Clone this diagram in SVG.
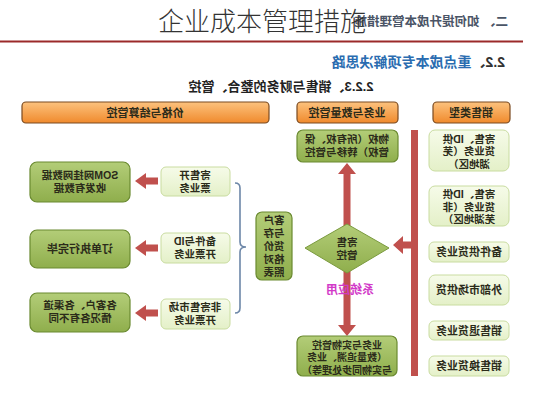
<svg xmlns="http://www.w3.org/2000/svg" width="533" height="400" viewBox="0 0 533 400">
<defs>
<linearGradient id="gOr" x1="0" y1="0" x2="0" y2="1"><stop offset="0" stop-color="#fcc27e"/><stop offset="1" stop-color="#f08a2c"/></linearGradient>
<linearGradient id="gGr" x1="0" y1="0" x2="0" y2="1"><stop offset="0" stop-color="#b3cd78"/><stop offset="1" stop-color="#8fae4c"/></linearGradient>
<linearGradient id="gLt" x1="0" y1="0" x2="0" y2="1"><stop offset="0" stop-color="#f6fbe9"/><stop offset="1" stop-color="#e4f0c8"/></linearGradient>
</defs>
<style>
.t{font-family:"Liberation Sans","Noto Sans CJK SC",sans-serif;font-weight:bold;font-size:11px;fill:#2b2b1a;text-anchor:middle}
.s{font-size:10.5px}
.hdr{fill:url(#gOr);stroke:#7a4a20;stroke-width:1.2}
.gb{fill:url(#gGr);stroke:#6a8a30;stroke-width:1.2}
.lb{fill:url(#gLt);stroke:#c9dca0;stroke-width:1}
.ar{fill:#c0504d}
</style>
<rect width="533" height="400" fill="#ffffff"/>
<g id="header">
<text class="t" style="font-size:12.5px;fill:#4a5466;text-anchor:start" x="508" y="26" transform="matrix(-1 0 0 1 1016 0)">二、 如何提升成本管理措施</text>
<line x1="0" y1="41.5" x2="523" y2="41.5" stroke="#9b2a2a" stroke-width="2"/>
<text class="t" style="font-size:14px;fill:#2a6cb0;text-anchor:start" x="505" y="67" transform="matrix(-1 0 0 1 1010 0)"><tspan fill="#333">2.2、</tspan>重点成本专项解决思路</text>
<text class="t" style="font-size:13px;fill:#222" x="281" y="91" transform="matrix(-1 0 0 1 562 0)">2.2.3、销售与财务的整合、管控</text>
</g>
<g id="title">
<text x="262" y="31" style="font-family:'Noto Sans CJK SC','Noto Sans',sans-serif;font-size:26px;font-weight:300;fill:#333;text-anchor:middle">企业成本管理措施</text>
</g>
<g id="connectors">
<path class="ar" d="M135 181 L146 173 L146 177.5 L158 177.5 L158 184.5 L146 184.5 L146 189 Z"/>
<path class="ar" d="M135 248 L146 240 L146 244.5 L158 244.5 L158 251.5 L146 251.5 L146 256 Z"/>
<path class="ar" d="M135 313 L146 305 L146 309.5 L158 309.5 L158 316.5 L146 316.5 L146 321 Z"/>
<path class="ar" d="M347 163 L356 174 L350.5 174 L350.5 227 L343.5 227 L343.5 174 L338 174 Z"/>
<path class="ar" d="M347 336 L356 325 L350.5 325 L350.5 271 L343.5 271 L343.5 325 L338 325 Z"/>
<rect class="ar" x="411" y="130" width="7" height="246"/>
<path class="ar" d="M393 245 L403 236 L403 241.5 L412 241.5 L412 248.5 L403 248.5 L403 254 Z"/>
<path d="M235 183 Q240 183 240 188 L240 242 Q240 247 246 247 Q240 247 240 252 L240 308 Q240 313 235 313" fill="none" stroke="#6d87a8" stroke-width="1.6"/>
<text class="t" style="font-size:12px;fill:#d23ac8" x="350" y="294" transform="matrix(-1 0 0 1 700 0)">系统应用</text>
</g>
<g id="h-price"><rect class="hdr" x="22" y="102" width="247" height="21" rx="4"/><text class="t" x="145" y="116.5" transform="matrix(-1 0 0 1 290 0)">价格与结算管控</text></g>
<g id="h-biz"><rect class="hdr" x="297" y="102" width="101" height="21" rx="4"/><text class="t" x="347" y="116.5" transform="matrix(-1 0 0 1 694 0)">业务与数量管控</text></g>
<g id="h-type"><rect class="hdr" x="433" y="102" width="77" height="21" rx="4"/><text class="t" x="471" y="116.5" transform="matrix(-1 0 0 1 942 0)">销售类型</text></g>

<g id="r1"><rect class="lb" x="429" y="130" width="80" height="41" rx="6"/><text class="t s" x="469" y="142.5" transform="matrix(-1 0 0 1 938 0)"><tspan x="469">寄售、ID供</tspan><tspan x="469" dy="12.5">货业务（芜</tspan><tspan x="469" dy="12.5">湖地区）</tspan></text></g>
<g id="r2"><rect class="lb" x="429" y="186" width="80" height="40" rx="6"/><text class="t s" x="469" y="198" transform="matrix(-1 0 0 1 938 0)"><tspan x="469">寄售、ID供</tspan><tspan x="469" dy="12.5">货业务（非</tspan><tspan x="469" dy="12.5">芜湖地区）</tspan></text></g>
<g id="r3"><rect class="lb" x="429" y="242" width="80" height="20" rx="5"/><text class="t" x="469" y="256" transform="matrix(-1 0 0 1 938 0)">备件供货业务</text></g>
<g id="r4"><rect class="lb" x="429" y="275" width="80" height="30" rx="6"/><text class="t" x="469" y="294" transform="matrix(-1 0 0 1 938 0)">外部市场供货</text></g>
<g id="r5"><rect class="lb" x="429" y="321" width="80" height="19" rx="5"/><text class="t" x="469" y="334.5" transform="matrix(-1 0 0 1 938 0)">销售退货业务</text></g>
<g id="r6"><rect class="lb" x="429" y="356" width="80" height="20" rx="5"/><text class="t" x="469" y="370" transform="matrix(-1 0 0 1 938 0)">销售换货业务</text></g>

<g id="m-top"><rect class="gb" x="297" y="130" width="101" height="32" rx="6"/><text class="t s" x="347" y="143" transform="matrix(-1 0 0 1 694 0)"><tspan x="347">物权（所有权、保</tspan><tspan x="347" dy="13">管权）转移与管控</tspan></text></g>
<g id="m-diamond"><path d="M347 224 L389 248 L347 273 L305 248 Z" fill="url(#gGr)" stroke="#7a9a3e" stroke-width="1"/><text class="t s" x="347" y="245.5" transform="matrix(-1 0 0 1 694 0)"><tspan x="347">寄售</tspan><tspan x="347" dy="13">管控</tspan></text></g>
<g id="m-bottom"><rect class="gb" x="297" y="336" width="100" height="40" rx="6"/><text class="t" style="font-size:10px" x="347" y="348.5" transform="matrix(-1 0 0 1 694 0)"><tspan x="347">业务与实物管控</tspan><tspan x="347" dy="12.5">（数量追溯、业务</tspan><tspan x="347" dy="12.5">与实物同步处理等）</tspan></text></g>

<g id="c-table"><rect class="gb" x="256" y="212" width="36" height="68" rx="6"/><text class="t s" x="274" y="224" transform="matrix(-1 0 0 1 548 0)"><tspan x="274">客户</tspan><tspan x="274" dy="13">与存</tspan><tspan x="274" dy="13">货价</tspan><tspan x="274" dy="13">格对</tspan><tspan x="274" dy="13">照表</tspan></text></g>

<g id="l1"><rect class="lb" x="161" y="167" width="69" height="29" rx="5"/><text class="t s" x="195" y="179" transform="matrix(-1 0 0 1 390 0)"><tspan x="195">寄售开</tspan><tspan x="195" dy="13">票业务</tspan></text></g>
<g id="l2"><rect class="lb" x="161" y="233" width="69" height="30" rx="5"/><text class="t s" x="195" y="245" transform="matrix(-1 0 0 1 390 0)"><tspan x="195">备件与ID</tspan><tspan x="195" dy="13">开票业务</tspan></text></g>
<g id="l3"><rect class="lb" x="161" y="299" width="69" height="30" rx="5"/><text class="t s" x="195" y="311" transform="matrix(-1 0 0 1 390 0)"><tspan x="195">非寄售市场</tspan><tspan x="195" dy="13">开票业务</tspan></text></g>

<g id="g1"><rect class="gb" x="30" y="162" width="100" height="40" rx="7"/><text class="t s" x="80" y="179" transform="matrix(-1 0 0 1 160 0)"><tspan x="80">SOM网挂网数据</tspan><tspan x="80" dy="13">收发有数据</tspan></text></g>
<g id="g2"><rect class="gb" x="30" y="230" width="100" height="38" rx="7"/><text class="t" x="80" y="253" transform="matrix(-1 0 0 1 160 0)">订单执行完毕</text></g>
<g id="g3"><rect class="gb" x="30" y="293" width="100" height="39" rx="7"/><text class="t s" x="80" y="309" transform="matrix(-1 0 0 1 160 0)"><tspan x="80">各客户、各渠道</tspan><tspan x="80" dy="13">情况各有不同</tspan></text></g>
</svg>
